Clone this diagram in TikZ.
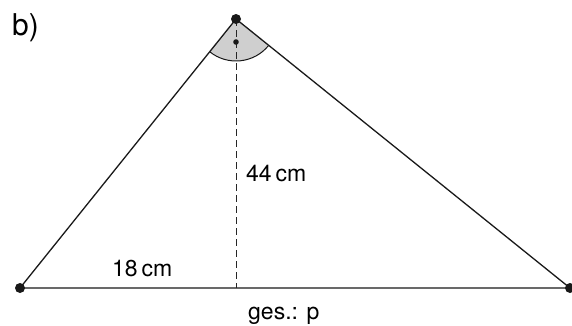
\documentclass[tikz,border=0pt]{standalone}
\usepackage{fontspec}
\setmainfont{TeX Gyre Heros}
\usetikzlibrary{angles,calc}
\tikzset{
  triedge/.style={line width=1.3pt, draw=black!90},
  trialt/.style={line width=0.9pt, draw=black!85, dash pattern=on 7pt off 4pt},
  trivertex/.style={circle, fill=black!90, inner sep=0pt, minimum size=10pt},
  trilabel/.style={font=\fontsize{23}{27}\selectfont, inner sep=0pt, anchor=base west},
}

\begin{document}
\begin{tikzpicture}[x=1pt, y=1pt]
  \useasboundingbox (0,0) rectangle (572,325);
  \coordinate (A) at (20,37);
  \coordinate (B) at (570,37);
  \coordinate (C) at (236,306);
  \coordinate (H) at (236,37);
  % right angle at the top
  \pic[draw=black!90, line width=1pt, fill=gray!38, angle radius=42pt] {angle=A--C--B};
  \draw[triedge] (A) -- (B) -- (C) -- cycle;
  \draw[trialt] (C) -- (H);
  \fill[black!90] ($(C)+(0,-23)$) circle (2.8pt);
  \node[trivertex] (vA) at (A) {};
  \node[trivertex] (vB) at (B) {};
  \node[trivertex] (vC) at (C) {};
  % texts
  \node[trilabel, font=\fontsize{30}{34}\selectfont] (part) at (12,290) {b)};
  \node[trilabel] (height) at (246,144) {44\,cm};
  \node[trilabel] (seg) at (112,49) {18\,cm};
  \node[trilabel] (task) at (248,6) {ges.: p};
\end{tikzpicture}
\end{document}
